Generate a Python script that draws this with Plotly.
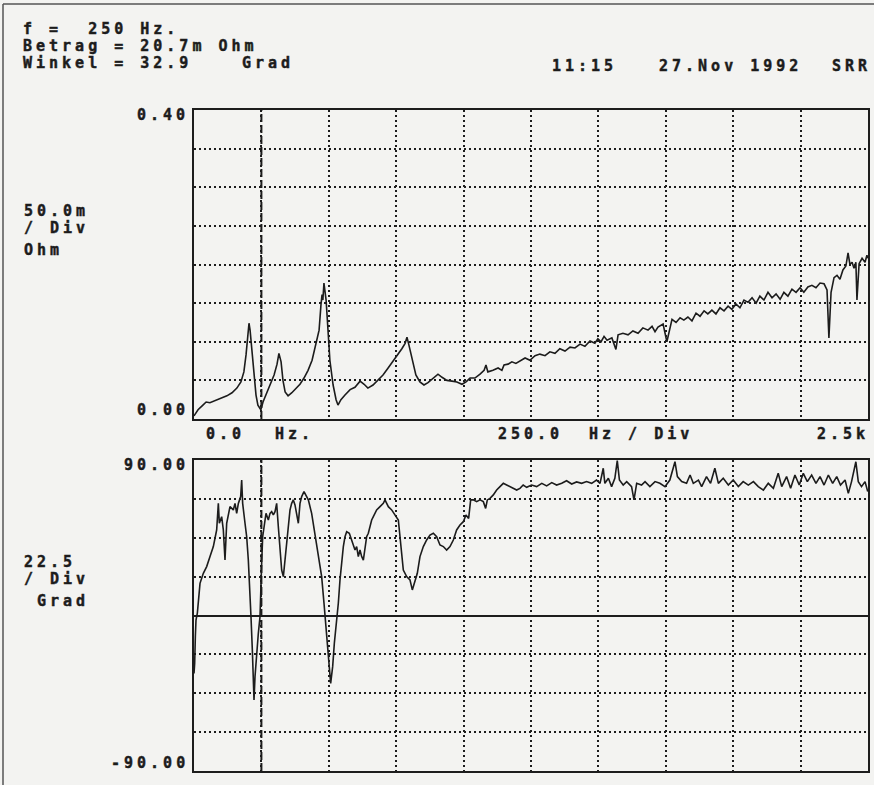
import plotly.graph_objects as go

# ---------------- data ----------------
CURSOR_HZ = 250
X_MAX_HZ = 2500
HZ_PER_DIV = 250
MAG_MAX = 0.40
MAG_PER_DIV = 0.05
PH_MIN, PH_MAX = -90, 90
PH_PER_DIV = 22.5

freq_mag = [0, 15, 33, 45, 59, 74, 89, 104, 122, 141,
            159, 174, 185, 193, 200, 204, 208, 215, 223, 230,
            237, 248, 256, 267, 282, 297, 308, 315, 323, 330,
            338, 349, 363, 378, 393, 408, 423, 438, 452, 464,
            471, 475, 478, 482, 490, 497, 504, 516, 527, 534,
            545, 560, 579, 597, 616, 631, 645, 664, 682, 701,
            720, 738, 757, 771, 783, 790, 797, 809, 823, 838,
            853, 868, 886, 905, 920, 938, 957, 975, 994, 1009,
            1024, 1042, 1061, 1076, 1083, 1090, 1109, 1128, 1142, 1150,
            1165, 1179, 1194, 1209, 1228, 1246, 1265, 1283, 1302, 1320,
            1339, 1357, 1376, 1395, 1413, 1432, 1450, 1469, 1487, 1498,
            1510, 1521, 1532, 1550, 1565, 1573, 1591, 1610, 1628, 1647,
            1665, 1684, 1699, 1710, 1721, 1740, 1754, 1773, 1788, 1803,
            1817, 1832, 1847, 1862, 1877, 1892, 1906, 1921, 1936, 1951,
            1966, 1981, 1995, 2010, 2025, 2040, 2055, 2070, 2085, 2099,
            2114, 2129, 2144, 2159, 2174, 2188, 2203, 2218, 2233, 2248,
            2262, 2277, 2292, 2307, 2322, 2337, 2348, 2355, 2363, 2374,
            2385, 2396, 2407, 2418, 2426, 2433, 2441, 2448, 2455, 2459,
            2467, 2478, 2489, 2496, 2500]

mag_ohm = [0.004, 0.012, 0.018, 0.022, 0.021, 0.023, 0.025, 0.027, 0.030, 0.034,
           0.040, 0.048, 0.061, 0.083, 0.115, 0.124, 0.115, 0.087, 0.057, 0.031,
           0.018, 0.012, 0.022, 0.031, 0.044, 0.057, 0.071, 0.085, 0.074, 0.050,
           0.035, 0.030, 0.034, 0.040, 0.045, 0.053, 0.063, 0.076, 0.096, 0.115,
           0.148, 0.161, 0.154, 0.176, 0.154, 0.115, 0.076, 0.044, 0.025, 0.018,
           0.025, 0.031, 0.038, 0.041, 0.049, 0.045, 0.040, 0.044, 0.050, 0.057,
           0.066, 0.075, 0.083, 0.091, 0.098, 0.106, 0.096, 0.076, 0.057, 0.048,
           0.044, 0.047, 0.053, 0.058, 0.054, 0.050, 0.049, 0.048, 0.045, 0.048,
           0.053, 0.053, 0.058, 0.063, 0.070, 0.061, 0.063, 0.066, 0.063, 0.070,
           0.071, 0.074, 0.072, 0.075, 0.079, 0.076, 0.082, 0.084, 0.082, 0.087,
           0.085, 0.091, 0.088, 0.093, 0.092, 0.097, 0.094, 0.101, 0.098, 0.104,
           0.100, 0.107, 0.102, 0.105, 0.090, 0.109, 0.111, 0.109, 0.114, 0.111,
           0.118, 0.115, 0.120, 0.113, 0.119, 0.123, 0.100, 0.129, 0.125, 0.131,
           0.128, 0.132, 0.127, 0.137, 0.133, 0.140, 0.136, 0.141, 0.136, 0.144,
           0.140, 0.146, 0.142, 0.149, 0.144, 0.154, 0.151, 0.157, 0.150, 0.159,
           0.154, 0.164, 0.157, 0.162, 0.155, 0.164, 0.159, 0.168, 0.164, 0.170,
           0.164, 0.171, 0.173, 0.170, 0.176, 0.175, 0.167, 0.105, 0.164, 0.183,
           0.186, 0.181, 0.193, 0.198, 0.215, 0.200, 0.203, 0.195, 0.203, 0.154,
           0.201, 0.208, 0.203, 0.212, 0.208]

freq_ph = [0, 2.5, 5, 7.4, 12.4, 16.1, 22.3, 34.6, 47.0, 59.4,
           71.7, 77.9, 84.1, 90.3, 94.0, 102.6, 108.8, 115.0, 121.2, 133.5,
           145.9, 152.1, 158.3, 164.5, 173.1, 176.8, 180.5, 189.2, 195.4, 201.5,
           207.7, 211.4, 216.4, 220.1, 222.6, 226.3, 232.5, 238.6, 244.8, 248.5,
           251.0, 254.7, 259.7, 263.4, 267.1, 275.7, 281.9, 288.1, 294.3, 300.5,
           306.6, 312.8, 319.0, 325.2, 331.4, 337.5, 343.7, 349.9, 356.1, 362.3,
           368.4, 374.6, 380.8, 387.0, 393.2, 399.4, 408.0, 415.4, 424.1, 436.4,
           448.8, 461.2, 473.5, 482.2, 488.4, 494.5, 500.7, 506.9, 514.3, 520.5,
           529.2, 535.3, 541.5, 547.7, 553.9, 560.1, 566.3, 576.1, 584.8, 591.0,
           597.2, 603.3, 609.5, 615.7, 621.9, 628.1, 634.2, 640.4, 646.6, 659.0,
           665.2, 677.5, 689.9, 702.2, 708.4, 714.6, 720.8, 733.2, 745.5, 757.9,
           764.1, 770.2, 776.4, 788.8, 801.1, 809.8, 819.7, 828.3, 838.2, 850.6,
           863.0, 875.3, 887.7, 900.1, 912.4, 924.8, 937.1, 949.5, 961.9, 974.2,
           986.6, 999.0, 1008.8, 1018.7, 1026.2, 1036.0, 1048.4, 1060.8, 1073.1, 1081.8,
           1088.0, 1097.9, 1110.2, 1122.6, 1135.0, 1147.3, 1159.7, 1172.0, 1184.4, 1196.8,
           1209, 1221, 1234, 1252, 1271, 1290, 1308, 1327, 1345, 1364,
           1382, 1401, 1419, 1438, 1456, 1475, 1493, 1506, 1518, 1524,
           1537, 1549, 1561, 1570, 1578, 1592, 1605, 1623, 1632, 1642,
           1660, 1673, 1691, 1710, 1728, 1747, 1765, 1775, 1784, 1793,
           1809, 1827, 1840, 1852, 1871, 1883, 1901, 1916, 1932, 1945,
           1963, 1982, 2000, 2019, 2037, 2056, 2075, 2093, 2112, 2130,
           2149, 2167, 2180, 2198, 2213, 2229, 2245, 2260, 2275, 2291,
           2307, 2322, 2337, 2353, 2369, 2384, 2398, 2415, 2427, 2439,
           2455, 2464, 2476, 2489, 2499]

phase_deg = [-33.5, -27.7, -12.2, -2.6, 1.3, 9.0, 18.6, 24.4, 28.3, 34.1,
             39.9, 44.7, 49.5, 64.9, 53.4, 57.2, 49.5, 32.1, 53.4, 63.0,
             61.1, 64.9, 59.1, 64.9, 68.8, 78.4, 64.9, 53.4, 45.6, 32.1,
             14.8, -0.7, -20.0, -39.3, -48.9, -35.4, -20.0, -10.3, -0.7, 12.8,
             30.2, 45.6, 51.4, 57.2, 59.1, 55.3, 59.1, 60.1, 58.2, 60.1,
             64.9, 51.4, 37.9, 26.3, 22.5, 32.1, 41.8, 53.4, 61.1, 64.9,
             66.9, 64.0, 57.2, 53.4, 64.9, 68.8, 71.7, 69.8, 66.9, 59.1,
             47.6, 36.0, 22.5, 7.1, -6.5, -16.1, -27.7, -39.3, -29.6, -16.1,
             -4.5, 7.1, 20.6, 32.1, 39.9, 45.6, 48.5, 47.6, 43.7, 41.8,
             37.9, 39.9, 34.1, 37.9, 34.1, 32.1, 37.9, 45.6, 47.6, 55.3,
             57.2, 61.1, 63.0, 64.9, 66.9, 64.9, 63.0, 61.1, 58.2, 55.3,
             45.6, 36.0, 26.3, 22.5, 20.6, 14.8, 20.6, 24.4, 34.1, 39.9,
             43.7, 46.6, 47.6, 45.6, 40.8, 39.9, 37.9, 39.9, 43.7, 49.5,
             52.4, 54.3, 58.2, 56.2, 66.9, 66.9, 65.9, 66.9, 65.9, 62.0,
             66.9, 67.8, 69.8, 72.6, 74.6, 76.5, 75.5, 74.6, 73.6, 72.6,
             73.6, 75.5, 74.2, 75.5, 74.6, 76.5, 75.0, 76.9, 75.5, 76.5,
             78.0, 76.1, 77.3, 76.5, 77.5, 76.5, 78.4, 76.5, 85.2, 76.5,
             79.4, 74.6, 79.4, 89.6, 78.4, 75.5, 77.5, 74.6, 66.9, 76.5,
             75.5, 77.5, 74.6, 77.5, 76.5, 74.6, 78.4, 84.2, 89.0, 80.4,
             77.5, 76.5, 81.3, 76.5, 78.4, 74.6, 80.4, 76.5, 85.2, 76.5,
             79.4, 75.5, 78.4, 74.6, 77.5, 75.5, 77.5, 74.6, 72.6, 76.5,
             73.6, 82.3, 74.6, 80.4, 73.6, 81.3, 75.5, 82.3, 77.5, 81.3,
             76.5, 80.4, 75.5, 81.3, 76.5, 80.4, 75.5, 78.4, 70.7, 77.5,
             89.0, 77.5, 74.6, 77.5, 71.7]

# ---------------- figure ----------------
W, H = 874, 785
INK = "#1c1c1c"
BG = "#f3f3f1"
NB = "\u00a0"

def px(x):
    return x / W

def py(y):
    return 1 - y / H

fig = go.Figure()
fig.add_trace(go.Scatter(x=freq_mag, y=mag_ohm, mode="lines",
                         line=dict(color=INK, width=1.6), xaxis="x", yaxis="y",
                         hoverinfo="skip"))
fig.add_trace(go.Scatter(x=freq_ph, y=phase_deg, mode="lines",
                         line=dict(color=INK, width=1.6), xaxis="x2", yaxis="y2",
                         hoverinfo="skip"))

grid = dict(showgrid=True, gridcolor=INK, gridwidth=1.5, griddash="1.5px,3.5px",
            showline=True, mirror=True, linecolor=INK, linewidth=2,
            showticklabels=False, ticks="", zeroline=False)

xdom = [px(194), px(868)]
fig.update_layout(
    width=W, height=H, margin=dict(l=0, r=0, t=0, b=0),
    paper_bgcolor=BG, plot_bgcolor=BG, showlegend=False,
    xaxis=dict(domain=xdom, range=[0, X_MAX_HZ], dtick=HZ_PER_DIV, anchor="y", **grid),
    yaxis=dict(domain=[py(419), py(110)], range=[0, MAG_MAX], dtick=MAG_PER_DIV, anchor="x", **grid),
    xaxis2=dict(domain=xdom, range=[0, X_MAX_HZ], dtick=HZ_PER_DIV, anchor="y2", **grid),
    yaxis2=dict(domain=[py(771), py(460)], range=[PH_MIN, PH_MAX], dtick=PH_PER_DIV, anchor="x2",
                **{**grid, "zeroline": True, "zerolinecolor": INK, "zerolinewidth": 1.6}),
)

# cursor line and outer frame
for xr, yr in (("x", "y"), ("x2", "y2")):
    fig.add_shape(type="line", xref=xr, yref=f"{yr} domain", x0=CURSOR_HZ, x1=CURSOR_HZ,
                  y0=0, y1=1, line=dict(color=INK, width=2, dash="8px,3px"))
fig.add_shape(type="line", xref="paper", yref="paper", x0=px(3), x1=px(3), y0=0, y1=py(4),
              line=dict(color="#555", width=1.5))
fig.add_shape(type="line", xref="paper", yref="paper", x0=px(3), x1=1, y0=py(4), y1=py(4),
              line=dict(color="#555", width=1.5))

FS = 15
LS = 4.0

def txt(s, x, y, anchor="left"):
    s = s.replace(" ", NB)
    style = f"letter-spacing:{LS}px;stroke:{INK};stroke-width:0.45px"
    fig.add_annotation(text=f'<span style="{style}">{s}</span>',
                       x=px(x), y=py(y), xref="paper", yref="paper",
                       xanchor=anchor, yanchor="middle", showarrow=False,
                       font=dict(family="DejaVu Sans Mono", size=FS, color=INK, weight="bold"))

txt("f =  250 Hz.", 21, 29)
txt("Betrag = 20.7m Ohm", 21, 46)
txt("Winkel = 32.9", 21, 63)
txt("Grad", 240, 63)
txt("11:15", 550, 66)
txt("27.Nov 1992", 657, 66)
txt("SRR", 830, 66)

txt("0.40", 191, 115, "right")
txt("0.00", 191, 410, "right")
txt("50.0m", 22, 211)
txt("/ Div", 22, 228)
txt("Ohm", 22, 250)

txt("0.0", 204, 434)
txt("Hz.", 273, 434)
txt("250.0", 496, 434)
txt("Hz / Div", 587, 434)
txt("2.5k", 815, 434)

txt("90.00", 191, 465, "right")
txt("-90.00", 191, 763, "right")
txt("22.5", 22, 562)
txt("/ Div", 22, 579)
txt("Grad", 35, 601)

fig.write_html("out.html", config={"displayModeBar": False})

# remove the default page margin so the figure sits at the window's top-left corner
with open("out.html", "r", encoding="utf-8") as f:
    page = f.read()
page = page.replace("<head>", "<head><style>html,body{margin:0;padding:0;overflow:hidden;}</style>", 1)
with open("out.html", "w", encoding="utf-8") as f:
    f.write(page)
